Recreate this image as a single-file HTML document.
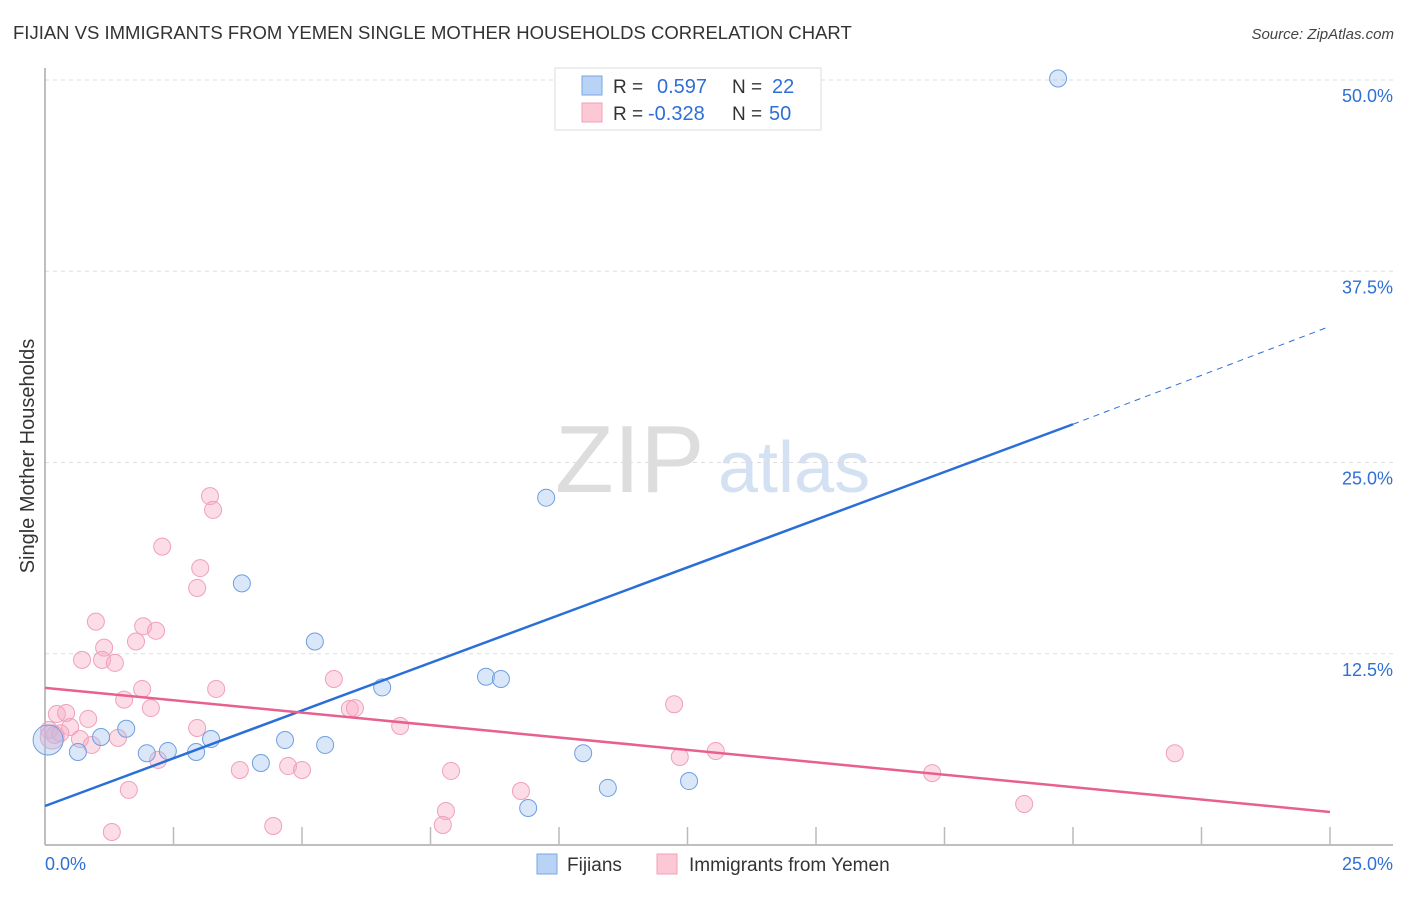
<!DOCTYPE html>
<html><head><meta charset="utf-8"><style>
body{margin:0;background:#fff;font-family:"Liberation Sans",sans-serif;}
svg text{font-family:"Liberation Sans",sans-serif;}
</style></head><body>
<svg id="chart" width="1406" height="892" xmlns="http://www.w3.org/2000/svg">
<text x="13" y="39" font-size="18.5" fill="#333">FIJIAN VS IMMIGRANTS FROM YEMEN SINGLE MOTHER HOUSEHOLDS CORRELATION CHART</text>
<text x="1394" y="39" font-size="15" fill="#444" text-anchor="end" font-style="italic">Source: ZipAtlas.com</text>
<g>
<text x="555" y="492" font-size="96" fill="#ddd" font-family="Liberation Serif,serif">ZIP</text>
<text x="718" y="492" font-size="72" fill="#d3e1f3">atlas</text>
</g>
<g id="grid"></g>
<g id="axes"></g>
<g id="marks"></g>
<text transform="translate(34,456) rotate(-90)" font-size="20" fill="#333" text-anchor="middle">Single Mother Households</text>
<g>
<rect x="555" y="68" width="266" height="62" fill="#fff" stroke="#ddd"/>
<rect x="582" y="76" width="20" height="19" fill="#b8d3f5" stroke="#7aa7e0"/>
<rect x="582" y="103" width="20" height="19" fill="#fcc8d6" stroke="#f0a0b8"/>
<text x="613" y="93" font-size="19" fill="#333">R =</text>
<text x="657" y="93" font-size="20" fill="#2f6fd6">0.597</text>
<text x="732" y="93" font-size="19" fill="#333">N =</text>
<text x="772" y="93" font-size="20" fill="#2f6fd6">22</text>
<text x="613" y="120" font-size="19" fill="#333">R =</text>
<text x="648" y="120" font-size="20" fill="#2f6fd6">-0.328</text>
<text x="732" y="120" font-size="19" fill="#333">N =</text>
<text x="769" y="120" font-size="20" fill="#2f6fd6">50</text>
</g>
<g>
<rect x="537" y="854" width="20" height="20" fill="#b8d3f5" stroke="#7aa7e0"/>
<text x="567" y="871" font-size="19" fill="#333">Fijians</text>
<rect x="657" y="854" width="20" height="20" fill="#fcc8d6" stroke="#f0a0b8"/>
<text x="689" y="871" font-size="19" fill="#333">Immigrants from Yemen</text>
</g>
</svg>
<script>
const yTicks=[12.5,25,37.5,50];
const yTickLabels=["12.5%","25.0%","37.5%","50.0%"];
const xTickVals=[2.5,5,7.5,10,12.5,15,17.5,20,22.5,25];
const fijiX=[19.71,9.75,3.83,5.25,6.56,8.58,8.87,1.58,1.09,0.64,1.98,2.39,2.94,3.23,4.2,4.67,5.45,10.47,10.95,9.4,12.53,0.06];
const fijiY=[50.1,22.7,17.1,13.3,10.3,11.0,10.85,7.6,7.06,6.08,6.0,6.14,6.08,6.93,5.36,6.86,6.54,6.0,3.73,2.42,4.18,6.86];
const yemX=[3.21,3.27,2.28,3.02,2.96,0.99,1.91,2.16,1.77,1.15,0.72,1.11,1.36,1.89,3.33,1.54,2.06,5.62,5.93,6.03,12.24,0.23,0.41,0.84,0.49,6.91,2.96,0.08,0.19,0.68,1.42,0.91,0.14,2.2,3.79,4.73,5.0,7.9,12.35,13.05,17.26,21.98,1.63,9.26,7.8,7.74,4.44,1.3,19.05,0.3];
const yemY=[22.8,21.9,19.5,18.1,16.8,14.6,14.3,14.0,13.3,12.9,12.1,12.1,11.9,10.2,10.2,9.5,8.95,10.85,8.9,8.95,9.2,8.56,8.63,8.24,7.71,7.78,7.65,7.52,7.19,6.93,7.0,6.54,7.06,5.56,4.9,5.16,4.9,4.84,5.75,6.14,4.7,6.0,3.6,3.53,2.22,1.31,1.24,0.85,2.68,7.3];
const fijiTrend=[2.55,27.5,33.9]; // at x=0, 20, 25
const yemTrend=[10.27,2.16]; // at x=0, 25
const X=v=>45+v*51.4, Y=v=>845-v*15.3;
const NS="http://www.w3.org/2000/svg";
function mk(t,a,p){const e=document.createElementNS(NS,t);for(const k in a)e.setAttribute(k,a[k]);p.appendChild(e);return e;}
const grid=document.getElementById('grid'),axes=document.getElementById('axes'),marks=document.getElementById('marks');
yTicks.forEach((v,i)=>{
 const l=mk('line',{x1:45,x2:1393,y1:Y(v),y2:Y(v),stroke:'#ddd','stroke-dasharray':'4,4'},grid);
 
 
 const t=mk('text',{x:1393,y:Y(v)+22,'font-size':18,fill:'#2f6fd6','text-anchor':'end'},axes);
 t.textContent=yTickLabels[i];
 
 
});
let a=mk('line',{x1:45,x2:45,y1:68,y2:845,stroke:'#aaa','stroke-width':1.5},axes);

a=mk('line',{x1:45,x2:1393,y1:845,y2:845,stroke:'#aaa','stroke-width':1.5},axes);

xTickVals.forEach(v=>{const t=mk('line',{x1:X(v),x2:X(v),y1:827,y2:845,stroke:'#bbb','stroke-width':1.5},axes);
 
 });
let xt=mk('text',{x:45,y:870,'font-size':18,fill:'#2f6fd6'},axes);xt.textContent='0.0%';

xt=mk('text',{x:1393,y:870,'font-size':18,fill:'#2f6fd6','text-anchor':'end'},axes);xt.textContent='25.0%';

yemX.forEach((x,i)=>{const c=mk('circle',{cx:X(x),cy:Y(yemY[i]),r:i==32?12:8.5,fill:'rgba(248,170,195,0.4)',stroke:'#f0a0b8','stroke-width':1},marks);
 
 });
fijiX.forEach((x,i)=>{const c=mk('circle',{cx:X(x),cy:Y(fijiY[i]),r:i==21?15:8.5,fill:'rgba(160,195,240,0.4)',stroke:'#6f9fe0','stroke-width':1},marks);
 
 });
let l=mk('line',{x1:X(0),y1:Y(fijiTrend[0]),x2:X(20),y2:Y(fijiTrend[1]),stroke:'#2a6fd8','stroke-width':2.5},marks);

l=mk('line',{x1:X(20),y1:Y(fijiTrend[1]),x2:X(25),y2:Y(fijiTrend[2]),stroke:'#2a6fd8','stroke-width':1,'stroke-dasharray':'6,5'},marks);

l=mk('line',{x1:X(0),y1:Y(yemTrend[0]),x2:X(25),y2:Y(yemTrend[1]),stroke:'#e8608f','stroke-width':2.5},marks);

</script>
</body></html>
